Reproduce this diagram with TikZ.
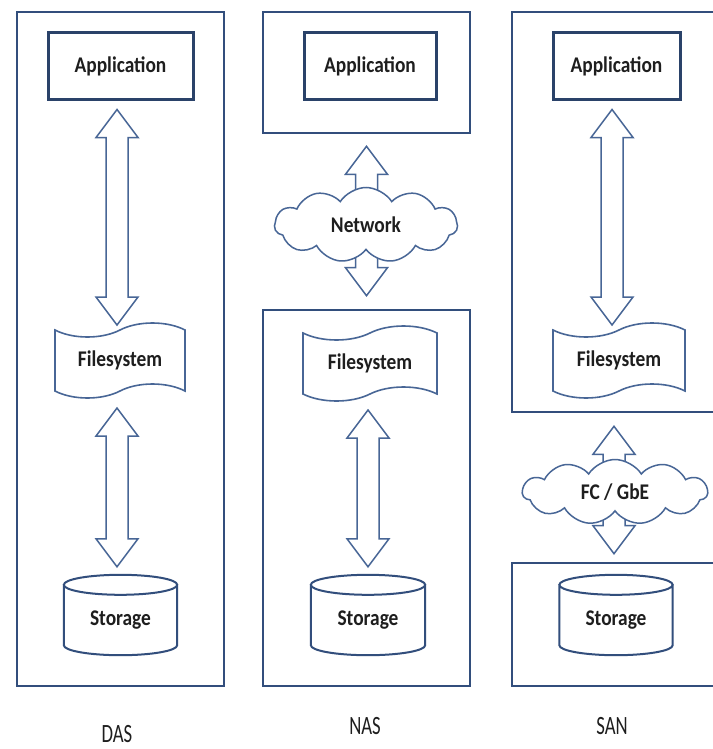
\documentclass[tikz,border=0pt]{standalone}
\usepackage{fontspec}
\setmainfont{Carlito}
\usetikzlibrary{shapes.symbols,calc}
\definecolor{boxcol}{RGB}{50,78,124}
\definecolor{arrcol}{RGB}{72,102,150}
\definecolor{txtcol}{RGB}{30,30,30}
\newcommand\tallbf[1]{\scalebox{0.97}[1.12]{#1}}
\tikzset{
 outerbox/.style={draw=boxcol,line width=2.6pt,rectangle,inner sep=0pt},
 appbox/.style={draw=boxcol!85!black,line width=3pt,rectangle,inner sep=0pt,fill=white,
   font=\fontsize{20}{24}\selectfont\bfseries,text=txtcol},
 fsbox/.style={tape,draw=arrcol,line width=1.6pt,fill=white,inner sep=0pt,tape bend height=14pt,
   font=\fontsize{20}{24}\selectfont\bfseries,text=txtcol},
 storbox/.style={rectangle,inner sep=0pt,font=\fontsize{20}{24}\selectfont\bfseries,text=txtcol},
 cylline/.style={draw=boxcol,line width=2pt},
 blockarrow/.style={draw=arrcol,line width=1.5pt,fill=white,line join=miter},
 netcloud/.style={cloud,cloud puffs=11,cloud puff arc=115,aspect=2.6,draw=arrcol,line width=1.5pt,fill=white,inner sep=0pt,
   font=\fontsize{20}{24}\selectfont\bfseries,text=txtcol},
 caption/.style={font=\fontsize{22}{26}\selectfont,text=txtcol}
}
\newcommand\dblarrow[2]{%
  \draw[blockarrow] let \p1=(#1), \p2=(#2) in
   (\x1,\y1) -- (\x1+21pt,\y1-28pt) -- (\x1+11pt,\y1-28pt) -- (\x1+11pt,\y2+28pt)
   -- (\x1+21pt,\y2+28pt) -- (\x1,\y2) -- (\x1-21pt,\y2+28pt) -- (\x1-11pt,\y2+28pt)
   -- (\x1-11pt,\y1-28pt) -- (\x1-21pt,\y1-28pt) -- cycle;}
\newcommand\cylinderdraw[1]{%
  \draw[cylline] let \p1=(#1.north west), \p2=(#1.north east), \p3=(#1.south west) in
   (#1.north) ellipse [x radius={(\x2-\x1)/2}, y radius=10pt]
   (\x1,\y1) -- (\x1,\y3+10pt) arc[start angle=180,end angle=360,x radius={(\x2-\x1)/2},y radius=10pt]
   -- (\x2,\y1);}
\begin{document}
\begin{tikzpicture}[x=1pt,y=-1pt]
\useasboundingbox (0,0) rectangle (712,749);
\fill[white] (0,0) rectangle (712,749);
% ---------- DAS ----------
\node[outerbox,minimum width=207pt,minimum height=674pt] (dasBox) at (120.5,349) {};
\node[appbox,minimum width=145pt,minimum height=67pt] (dasApp) at (120.5,66.5) {\tallbf{Application}};
\node[fsbox,minimum width=130pt,minimum height=75pt] (dasFs) at (120,360.5) {\tallbf{Filesystem}};
\node[storbox,minimum width=113pt,minimum height=70pt] (dasSt) at (120.5,620) {};
\cylinderdraw{dasSt}
\node[storbox] (dasStT) at (dasSt.center) {\tallbf{Storage}};
\coordinate (dasA1) at ($(dasApp.south)+(-3.5,8)$);
\coordinate (dasA2) at ($(dasFs.center)+(0,-35.5)$);
\coordinate (dasB1) at ($(dasFs.center)+(-3,47.5)$);
\coordinate (dasB2) at ($(dasSt.north)+(0,-18)$);
\dblarrow{dasA1}{dasA2}
\dblarrow{dasB1}{dasB2}
% ---------- NAS ----------
\node[outerbox,minimum width=207pt,minimum height=121pt] (nasTop) at (366.5,72.5) {};
\node[appbox,minimum width=132pt,minimum height=67pt] (nasApp) at (370,66.5) {\tallbf{Application}};
\node[outerbox,minimum width=207pt,minimum height=376pt] (nasBot) at (366.5,498) {};
\node[fsbox,minimum width=134pt,minimum height=75pt] (nasFs) at (370,363.5) {\tallbf{Filesystem}};
\node[storbox,minimum width=114pt,minimum height=70pt] (nasSt) at (368,620) {};
\cylinderdraw{nasSt}
\node[storbox] (nasStT) at (nasSt.center) {\tallbf{Storage}};
\coordinate (nasA1) at ($(nasTop.south)+(0,12)$);
\coordinate (nasA2) at ($(nasBot.north)+(0,-13)$);
\dblarrow{nasA1}{nasA2}
\node[netcloud,minimum width=183pt,minimum height=75pt] (nasNet) at (366,225) {\tallbf{Network}};
\coordinate (nasB1) at ($(nasFs.center)+(-2,46.5)$);
\coordinate (nasB2) at ($(nasSt.north)+(0,-18)$);
\dblarrow{nasB1}{nasB2}
% ---------- SAN ----------
\node[outerbox,minimum width=204pt,minimum height=400pt] (sanTop) at (614,212) {};
\node[appbox,minimum width=127pt,minimum height=67pt] (sanApp) at (616.5,66.5) {\tallbf{Application}};
\node[fsbox,minimum width=132pt,minimum height=75pt] (sanFs) at (619,360.5) {\tallbf{Filesystem}};
\node[outerbox,minimum width=204pt,minimum height=123pt] (sanBot) at (614,624.5) {};
\node[storbox,minimum width=113pt,minimum height=70pt] (sanSt) at (616,620) {};
\cylinderdraw{sanSt}
\node[storbox] (sanStT) at (sanSt.center) {\tallbf{Storage}};
\coordinate (sanA1) at ($(sanApp.south)+(-4.5,8)$);
\coordinate (sanA2) at ($(sanFs.center)+(0,-35.5)$);
\dblarrow{sanA1}{sanA2}
\coordinate (sanB1) at ($(sanTop.south)+(0,13)$);
\coordinate (sanB2) at ($(sanBot.north)+(0,-8)$);
\dblarrow{sanB1}{sanB2}
\node[netcloud,minimum width=185pt,minimum height=65pt] (sanNet) at (615,492) {\tallbf{FC / GbE}};
% ---------- captions ----------
\node[caption] (dasL) at (117,734) {\scalebox{0.85}[1.2]{DAS}};
\node[caption] (nasL) at (365,726) {\scalebox{0.85}[1.2]{NAS}};
\node[caption] (sanL) at (612,726) {\scalebox{0.85}[1.2]{SAN}};
\end{tikzpicture}
\end{document}
